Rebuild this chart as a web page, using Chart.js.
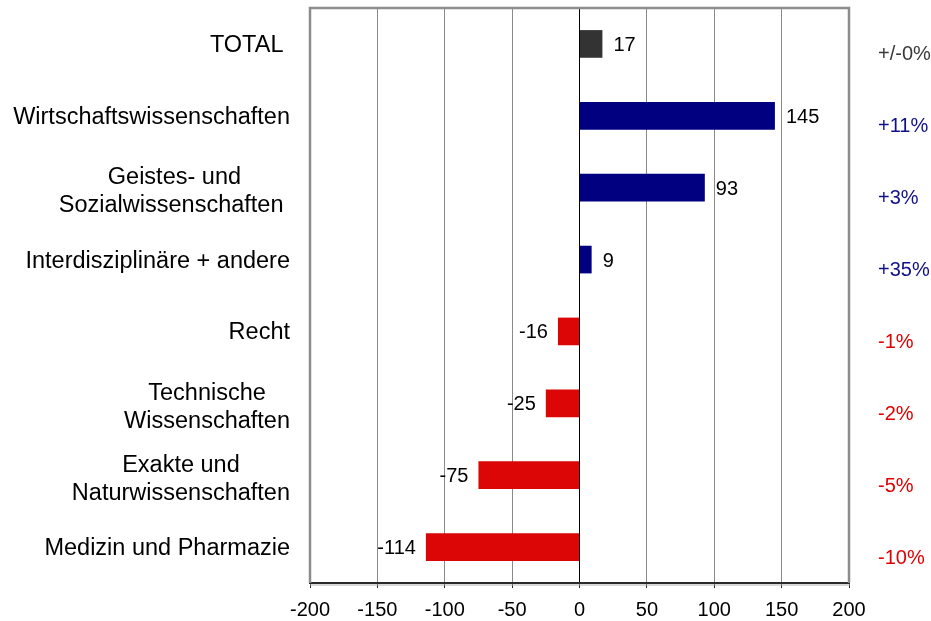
<!DOCTYPE html>
<html>
<head>
<meta charset="utf-8">
<script src="https://cdn.jsdelivr.net/npm/chart.js@4/dist/chart.umd.min.js"></script>
<style>
  html, body { margin: 0; padding: 0; background: #fff; }
  #chart { display: block; }
</style>
</head>
<body>
<canvas id="chart" width="931" height="621"></canvas>
<script>
const categories = [
  ['TOTAL '],
  ['Wirtschaftswissenschaften'],
  ['Geistes- und', 'Sozialwissenschaften '],
  ['Interdisziplinäre + andere'],
  ['Recht'],
  ['Technische', 'Wissenschaften'],
  ['Exakte und', 'Naturwissenschaften'],
  ['Medizin und Pharmazie']
];
const changes = [17, 145, 93, 9, -16, -25, -75, -114];
const percentChanges = ['+/-0%', '+11%', '+3%', '+35%', '-1%', '-2%', '-5%', '-10%'];
const xMin = -200;
const xMax = 200;
const xStep = 50;

const FONT = '"Liberation Sans", Arial, sans-serif';
const TOTAL_COLOR = '#333333';
const UP_COLOR = '#000080';
const DOWN_COLOR = '#dc0606';
const LABEL_RIGHT = 290;

function barColor(i) {
  if (i === 0) return TOTAL_COLOR;
  return changes[i] >= 0 ? UP_COLOR : DOWN_COLOR;
}

function pctColor(i) {
  if (i === 0) return '#3a3a3a';
  return changes[i] >= 0 ? '#10108a' : '#e00000';
}

// grey frame on left / top / right, like the old Excel plot area
const frame = {
  id: 'frame',
  beforeDatasetsDraw(chart) {
    const { ctx, chartArea: a } = chart;
    ctx.save();
    ctx.strokeStyle = '#8c8c8c';
    ctx.lineWidth = 2.5;
    ctx.beginPath();
    ctx.moveTo(a.left, a.bottom);
    ctx.lineTo(a.left, a.top);
    ctx.lineTo(a.right, a.top);
    ctx.lineTo(a.right, a.bottom);
    ctx.stroke();
    ctx.strokeStyle = '#b0b0b0';
    ctx.lineWidth = 1;
    ctx.beginPath();
    ctx.moveTo(a.left, a.bottom + 2);
    ctx.lineTo(a.right + 1, a.bottom + 2);
    ctx.stroke();
    ctx.restore();
  }
};

const annotations = {
  id: 'annotations',
  afterDatasetsDraw(chart) {
    const { ctx, scales: { y } } = chart;
    const bars = chart.getDatasetMeta(0).data;
    ctx.save();
    ctx.textBaseline = 'middle';

    // values at the bar ends
    ctx.font = '20px ' + FONT;
    ctx.fillStyle = '#000';
    bars.forEach((bar, i) => {
      const v = changes[i];
      if (v >= 0) {
        ctx.textAlign = 'left';
        ctx.fillText(String(v), bar.x + 11, bar.y + 1.5);
      } else {
        ctx.textAlign = 'right';
        ctx.fillText(String(v), bar.x - 10, bar.y + 1.5);
      }
    });

    // category names, lines centred inside a right-aligned block
    ctx.font = '23.5px ' + FONT;
    ctx.textAlign = 'center';
    categories.forEach((lines, i) => {
      const cy = y.getPixelForValue(i);
      const blockW = Math.max(...lines.map(l => ctx.measureText(l).width));
      const cx = LABEL_RIGHT - blockW / 2;
      const lh = 28;
      const shift = lines.length > 1 ? 4 : 1.5;
      lines.forEach((l, j) => {
        ctx.fillText(l, cx, cy + shift + (j - (lines.length - 1) / 2) * lh);
      });
    });

    // relative change column on the right
    ctx.font = '20px ' + FONT;
    ctx.textAlign = 'left';
    percentChanges.forEach((p, i) => {
      ctx.fillStyle = pctColor(i);
      ctx.fillText(p, chart.chartArea.right + 29, y.getPixelForValue(i) + 11);
    });

    ctx.restore();
  }
};

new Chart(document.getElementById('chart'), {
  type: 'bar',
  data: {
    labels: categories,
    datasets: [{
      data: changes,
      backgroundColor: changes.map((_, i) => barColor(i)),
      borderWidth: 0,
      barPercentage: 0.77,
      categoryPercentage: 0.5
    }]
  },
  options: {
    indexAxis: 'y',
    responsive: false,
    animation: false,
    layout: { padding: { left: 310, right: 82, top: 8, bottom: 0 } },
    scales: {
      x: {
        min: xMin,
        max: xMax,
        afterFit(scale) { scale.height = 38; },
        ticks: {
          stepSize: xStep,
          color: '#000',
          padding: 10,
          font: { size: 20, family: FONT }
        },
        grid: {
          color: ctx => (ctx.tick && ctx.tick.value === 0) ? '#000' : '#8a8a8a',
          lineWidth: 1,
          tickColor: '#222',
          tickLength: 5
        },
        border: { color: '#2a2a2a', width: 2 }
      },
      y: {
        display: false
      }
    },
    plugins: {
      legend: { display: false },
      tooltip: { enabled: false }
    }
  },
  plugins: [frame, annotations]
});
</script>
</body>
</html>
